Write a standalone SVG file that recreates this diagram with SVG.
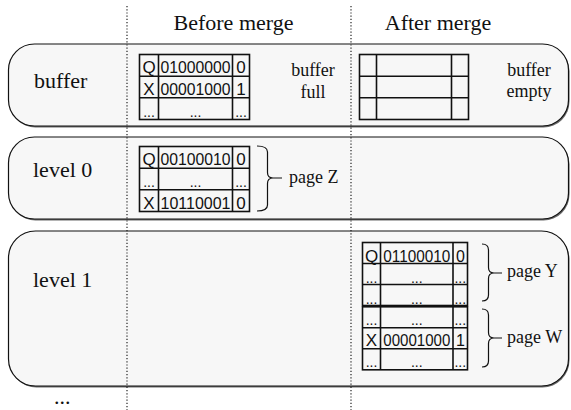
<svg xmlns="http://www.w3.org/2000/svg" width="571" height="410" viewBox="0 0 571 410">
<defs>
<style>
.box{fill:#f7f7f7;stroke:#111;stroke-width:1.2}
.shadow{fill:#444;opacity:0.8}
.grid{fill:none;stroke:#111;stroke-width:1.6}
.cell{font-family:"Liberation Sans",Arial,sans-serif;font-size:17px;fill:#111;text-anchor:middle}
.nar{font-size:16px}
.dots{font-size:14px}
.lbl{font-family:"Liberation Serif","Times New Roman",serif;font-size:22px;fill:#111}
.sm{font-family:"Liberation Serif","Times New Roman",serif;font-size:18px;fill:#111}
.mid{text-anchor:middle}
.brace{fill:none;stroke:#111;stroke-width:1.2}
.sep{stroke:#222;stroke-width:1.2;stroke-dasharray:1.2 2}
</style>
</defs>
<rect width="571" height="410" fill="#fff"/>

<g id="header">
<text class="lbl mid" x="233.5" y="30">Before merge</text>
<text class="lbl mid" x="438" y="30">After merge</text>
</g>

<g id="buffer">
<rect class="shadow" x="9.5" y="45.5" width="560" height="82" rx="26"/>
<rect class="box" x="8.5" y="44" width="560" height="82" rx="26"/>
<text class="lbl" x="34" y="88">buffer</text>
</g>

<g id="level0">
<rect class="shadow" x="9.5" y="138.5" width="560" height="82" rx="26"/>
<rect class="box" x="8.5" y="137" width="560" height="82" rx="26"/>
<text class="lbl" x="33" y="177">level 0</text>
</g>

<g id="level1">
<rect class="shadow" x="9.5" y="232.5" width="560" height="155" rx="27"/>
<rect class="box" x="8.5" y="231" width="560" height="155" rx="27"/>
<text class="lbl" x="33" y="287">level 1</text>
</g>

<g id="buffer-before">
<rect class="grid" x="139.5" y="54.5" width="110" height="65"/>
<path class="grid" d="M139.5 76.2H249.5M139.5 97.8H249.5M158.5 54.5V119.5M232.5 54.5V119.5"/>
<text class="cell" x="149" y="73">Q</text>
<text class="cell" x="195.5" y="73" textLength="70" lengthAdjust="spacingAndGlyphs">01000000</text>
<text class="cell" x="241" y="73">0</text>
<text class="cell" x="149" y="95">X</text>
<text class="cell" x="195.5" y="95" textLength="70" lengthAdjust="spacingAndGlyphs">00001000</text>
<text class="cell" x="241" y="95">1</text>
<text class="cell dots" x="149" y="116.5">...</text>
<text class="cell dots" x="195.5" y="116.5">...</text>
<text class="cell dots" x="241" y="116.5">...</text>
<text class="sm mid" x="313" y="76">buffer</text>
<text class="sm mid" x="313" y="98">full</text>
</g>

<g id="buffer-after">
<rect class="grid" x="359.5" y="54.5" width="109" height="65"/>
<path class="grid" d="M359.5 76.2H468.5M359.5 97.8H468.5M376.5 54.5V119.5M451.5 54.5V119.5"/>
<text class="sm mid" x="529" y="76">buffer</text>
<text class="sm mid" x="529" y="97">empty</text>
</g>

<g id="pageZ">
<rect class="grid" x="139.5" y="146.5" width="110" height="65"/>
<path class="grid" d="M139.5 168.2H249.5M139.5 189.8H249.5M158.5 146.5V211.5M232.5 146.5V211.5"/>
<text class="cell" x="149" y="165">Q</text>
<text class="cell" x="195.5" y="165" textLength="70" lengthAdjust="spacingAndGlyphs">00100010</text>
<text class="cell" x="241" y="165">0</text>
<text class="cell dots" x="149" y="187">...</text>
<text class="cell dots" x="195.5" y="187">...</text>
<text class="cell dots" x="241" y="187">...</text>
<text class="cell" x="149" y="208.5">X</text>
<text class="cell" x="195.5" y="208.5" textLength="70" lengthAdjust="spacingAndGlyphs">10110001</text>
<text class="cell" x="241" y="208.5">0</text>
<text class="sm" x="289" y="183">page Z</text>
</g>

<g id="pageY">
<rect class="grid" x="362.5" y="242.5" width="105" height="63"/>
<path class="grid" d="M362.5 263.5H467.5M362.5 284.5H467.5M380.5 242.5V305.5M453 242.5V305.5"/>
<text class="cell" x="371.5" y="261.5">Q</text>
<text class="cell nar" x="416.75" y="261.5" textLength="67" lengthAdjust="spacingAndGlyphs">01100010</text>
<text class="cell nar" x="460.5" y="261.5">0</text>
<text class="cell dots" x="371.5" y="282.5">...</text>
<text class="cell dots" x="416.75" y="282.5">...</text>
<text class="cell dots" x="460.25" y="282.5">...</text>
<text class="cell dots" x="371.5" y="303.5">...</text>
<text class="cell dots" x="416.75" y="303.5">...</text>
<text class="cell dots" x="460.25" y="303.5">...</text>
<text class="sm" x="507" y="277">page Y</text>
</g>

<g id="pageW">
<rect class="grid" x="362.5" y="306.8" width="105" height="63"/>
<path class="grid" d="M362.5 327.8H467.5M362.5 348.8H467.5M380.5 306.8V369.8M453 306.8V369.8"/>
<text class="cell dots" x="371.5" y="325">...</text>
<text class="cell dots" x="416.75" y="325">...</text>
<text class="cell dots" x="460.25" y="325">...</text>
<text class="cell" x="371.5" y="346">X</text>
<text class="cell nar" x="416.75" y="346" textLength="67" lengthAdjust="spacingAndGlyphs">00001000</text>
<text class="cell nar" x="460.5" y="346">1</text>
<text class="cell dots" x="371.5" y="367">...</text>
<text class="cell dots" x="416.75" y="367">...</text>
<text class="cell dots" x="460.25" y="367">...</text>
<text class="sm" x="507" y="342.5">page W</text>
</g>

<g id="connectors">
<path class="brace" d="M257 146Q267.5 146 267.5 152V172.5Q267.5 178 273 178H282M273 178Q267.5 178 267.5 183.5V205Q267.5 211 257 211"/>
<path class="brace" d="M482 244Q488.5 244 488.5 250V267.5Q488.5 273 494 273H502M494 273Q488.5 273 488.5 278.5V295Q488.5 301 482 301"/>
<path class="brace" d="M482 309Q488.5 309 488.5 315V332.5Q488.5 338 494 338H502M494 338Q488.5 338 488.5 343.5V361Q488.5 367 482 367"/>
</g>

<g id="separators">
<line class="sep" x1="127" y1="6" x2="127" y2="410"/>
<line class="sep" x1="351" y1="6" x2="351" y2="410"/>
</g>

<text class="lbl" x="54" y="404">...</text>
</svg>
